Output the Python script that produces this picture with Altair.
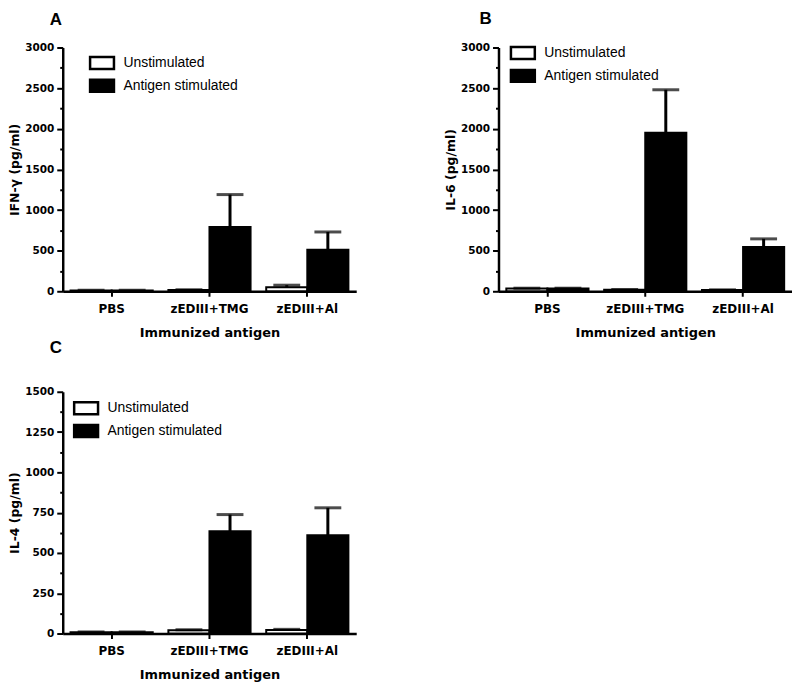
import altair as alt
import pandas as pd

FONT = "Arial, Liberation Sans, sans-serif"
AXFONT = "DejaVu Sans"

categories = ["PBS", "zEDIII+TMG", "zEDIII+Al"]
groups = ["Unstimulated", "Antigen stimulated"]

# Panel A: IFN-gamma
ifn_unstim = [10, 15, 50]
ifn_unstim_err = [3, 3, 25]
ifn_antigen = [10, 790, 510]
ifn_antigen_err = [3, 400, 220]

# Panel B: IL-6
il6_unstim = [35, 20, 15]
il6_unstim_err = [3, 3, 3]
il6_antigen = [35, 1950, 545]
il6_antigen_err = [3, 530, 100]

# Panel C: IL-4
il4_unstim = [8, 20, 22]
il4_unstim_err = [2, 3, 4]
il4_antigen = [8, 635, 610]
il4_antigen_err = [2, 103, 170]


def make_df(unstim, unstim_err, antigen, antigen_err):
    rows = []
    for i, c in enumerate(categories):
        rows.append({"category": c, "group": groups[0], "value": unstim[i],
                     "hi": unstim[i] + unstim_err[i]})
        rows.append({"category": c, "group": groups[1], "value": antigen[i],
                     "hi": antigen[i] + antigen_err[i]})
    return pd.DataFrame(rows)


def panel(letter, ytitle, df, ymax, major, minor, height, title_dx, title_off, lx, ly):
    xscale = alt.Scale(paddingInner=0.16, paddingOuter=0.08)
    oscale = alt.Scale(paddingInner=0, paddingOuter=0)
    yscale = alt.Scale(domain=[0, ymax], nice=False, zero=True)
    major_vals = list(range(0, ymax + 1, major))
    minor_vals = [v for v in range(0, ymax + 1, minor) if v % major != 0]

    x_axis = alt.Axis(title="Immunized antigen", labelAngle=0, tickSize=5,
                      labelPadding=7, titlePadding=12, labelFontSize=12,
                      labelFont=AXFONT, labelFontWeight="bold",
                      titleFontSize=13, titleFont=AXFONT,
                      titleFontWeight="bold")
    y_major = alt.Axis(title=ytitle, values=major_vals, format="d",
                       tickSize=6, labelPadding=3, titlePadding=3,
                       labelFontSize=10.5, labelFont=AXFONT,
                       labelFontWeight="bold", titleFontSize=12.5,
                       titleFont=AXFONT, titleFontWeight="bold", grid=False)
    y_minor = alt.Axis(title=None, values=minor_vals, tickSize=3, labels=False,
                       domain=False, grid=False, orient="left")

    base = alt.Chart(df)
    x = alt.X("category:N", sort=categories, scale=xscale, axis=x_axis)
    xo = alt.XOffset("group:N", sort=groups, scale=oscale)

    bars = base.mark_bar(stroke="black", strokeWidth=2).encode(
        x=x, xOffset=xo,
        y=alt.Y("value:Q", scale=yscale, axis=y_major),
        fill=alt.Fill("group:N", sort=groups,
                      scale=alt.Scale(domain=groups, range=["white", "black"]),
                      legend=alt.Legend(
                          title=None, orient="none", legendX=lx, legendY=ly,
                          symbolType="M-1.2,-0.6H1.2V0.6H-1.2Z",
                          symbolSize=400, symbolStrokeColor="black",
                          symbolStrokeWidth=2.5, labelFontSize=14,
                          labelFont=FONT, labelOffset=10, rowPadding=0,
                          padding=0, labelColor="black")),
    )
    rule = base.mark_rule(color="black", strokeWidth=3).encode(
        x=x, xOffset=xo,
        y=alt.Y("value:Q", scale=yscale, axis=None),
        y2="hi:Q",
    )
    cap = base.mark_tick(color="black", thickness=3, size=27).encode(
        x=x, xOffset=xo,
        y=alt.Y("hi:Q", scale=yscale, axis=y_minor),
    )
    return alt.layer(bars, rule, cap).resolve_axis(y="independent").properties(
        width=295, height=height,
        title=alt.TitleParams(letter, anchor="start", frame="group",
                              dx=title_dx, offset=title_off, fontSize=17,
                              fontWeight="bold", font=FONT, color="black"),
    )


pA = panel("A", "IFN-γ (pg/ml)",
           make_df(ifn_unstim, ifn_unstim_err, ifn_antigen, ifn_antigen_err),
           3000, 500, 250, 245, -13, 14, 28, 4)
pB = panel("B", "IL-6 (pg/ml)",
           make_df(il6_unstim, il6_unstim_err, il6_antigen, il6_antigen_err),
           3000, 500, 250, 245, -19, 14, 13, -6)
pC = panel("C", "IL-4 (pg/ml)",
           make_df(il4_unstim, il4_unstim_err, il4_antigen, il4_antigen_err),
           1500, 250, 125, 243, -13, 30, 12, 5)

top = alt.hconcat(pA, pB, spacing=88).resolve_scale(fill="independent").resolve_legend(fill="independent")
chart = alt.vconcat(top, pC, spacing=0).resolve_scale(fill="independent").resolve_legend(fill="independent").properties(
    padding=0
).configure_view(stroke=None).configure_axis(
    labelFont=FONT, titleFont=FONT, domainColor="black", domainWidth=2.5,
    tickColor="black", tickWidth=2, labelColor="black", titleColor="black",
)

chart.save("out.html", embed_options={"renderer": "svg", "actions": False})
